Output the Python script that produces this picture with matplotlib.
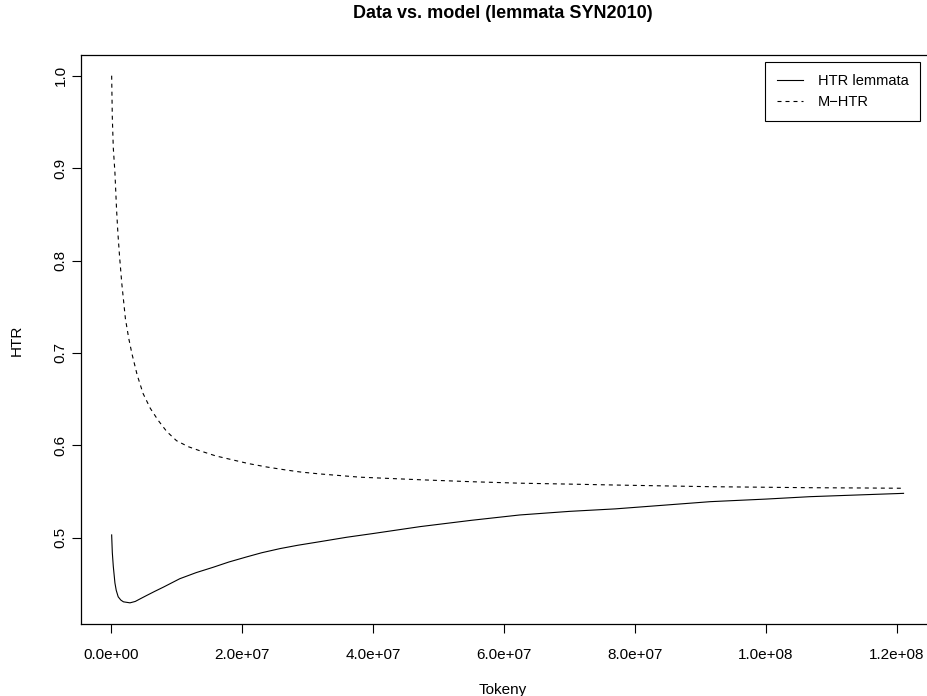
import matplotlib
matplotlib.use("Agg")
import matplotlib.pyplot as plt

plt.rcParams['font.family'] = ['Liberation Sans', 'DejaVu Sans']

# (tokeny v milionech)
tokens_data = [0.1, 0.2, 0.35, 0.6, 0.8, 1.1, 1.5, 1.9, 2.9, 3.7, 4.5, 5.45, 6.7, 8.0,
               10.5, 13.0, 15.6, 18.0, 20.7, 23.0, 25.8, 28.5, 31.9, 36.0, 40.0, 47.2,
               55.0, 62.4, 70.0, 77.0, 85.0, 91.5, 100.0, 106.7, 115.0, 121.0]
htr_data = [0.503, 0.484, 0.469, 0.451, 0.443, 0.436, 0.4325, 0.4306, 0.4295, 0.431,
            0.434, 0.4375, 0.442, 0.4465, 0.4556, 0.4622, 0.468, 0.4737, 0.4792, 0.4837,
            0.4882, 0.4918, 0.4957, 0.5005, 0.5045, 0.512, 0.5188, 0.5246, 0.5285,
            0.5312, 0.5355, 0.539, 0.5418, 0.5444, 0.5465, 0.548]

tokens_model = [0.1, 0.2, 0.35, 0.6, 0.85, 1.05, 1.3, 1.65, 2.2, 2.7, 3.2, 4.0, 4.9,
                6.0, 7.2, 8.5, 10.0, 11.8, 13.6, 16.0, 18.7, 21.0, 23.8, 26.5, 28.9,
                31.9, 38.0, 47.2, 55.0, 62.4, 70.0, 77.0, 85.0, 91.5, 100.0, 106.7,
                115.0, 121.0]
htr_model = [1.0, 0.955, 0.922, 0.895, 0.855, 0.83, 0.805, 0.775, 0.737, 0.716, 0.699,
             0.676, 0.656, 0.64, 0.627, 0.615, 0.605, 0.5985, 0.594, 0.5885, 0.584,
             0.5802, 0.5765, 0.5735, 0.5711, 0.569, 0.5655, 0.5627, 0.5606, 0.559,
             0.558, 0.557, 0.556, 0.5552, 0.5546, 0.5541, 0.5538, 0.5535]

x_ticks = [0, 2e7, 4e7, 6e7, 8e7, 1e8, 1.2e8]
x_tick_labels = ["0.0e+00", "2.0e+07", "4.0e+07", "6.0e+07", "8.0e+07", "1.0e+08", "1.2e+08"]
y_ticks = [0.5, 0.6, 0.7, 0.8, 0.9, 1.0]

W, H = 928, 696
fig = plt.figure(figsize=(W / 100, H / 100), dpi=100)

# pozice os v pixelech (pravý okraj je mimo obrázek, jako v originálu)
left, right, top, bottom = 81, 936, 55, 624
ax = fig.add_axes([left / W, 1 - bottom / H, (right - left) / W, (bottom - top) / H])

k = 786 / 1.2e8
ax.set_xlim((left - 111) / k, (right - 111) / k)
ky = (537.7 - 75.7) / 0.5
ax.set_ylim(0.5 - (bottom - 537.7) / ky, 1.0 + (75.7 - top) / ky)

ax.plot([t * 1e6 for t in tokens_data], htr_data, color='black', lw=0.8,
        label='HTR lemmata')
ax.plot([t * 1e6 for t in tokens_model], htr_model, color='black', lw=0.8,
        dashes=(3.6, 3.6), label='M\u2212HTR')

ax.set_xticks(x_ticks)
ax.set_xticklabels(x_tick_labels)
ax.set_yticks(y_ticks)
ax.set_yticklabels([f"{v:.1f}" for v in y_ticks], rotation=90, va='center')

ax.tick_params(axis='both', direction='out', length=6.5, width=0.8, labelsize=11,
               colors='black')
ax.tick_params(axis='x', pad=10.5)
ax.tick_params(axis='y', pad=3)
for s in ax.spines.values():
    s.set_linewidth(0.9)

fig.text(503 / W, 1 - 14 / H, "Data vs. model (lemmata SYN2010)", ha='center',
         va='center', fontsize=13, fontweight='bold')
fig.text(503 / W, 1 - 690 / H, "Tokeny", ha='center', va='center', fontsize=11)
fig.text(17 / W, 1 - 340 / H, "HTR", ha='center', va='center', fontsize=11,
         rotation=90)

leg = ax.legend(loc='upper right', bbox_to_anchor=(920 / W, 1 - 62 / H),
                bbox_transform=fig.transFigure, fancybox=False, framealpha=1,
                edgecolor='black', fontsize=10.5, handlelength=1.8,
                borderaxespad=0, borderpad=0.8, labelspacing=0.5, handletextpad=1.0)
leg.get_frame().set_linewidth(0.8)

fig.savefig("out.png", dpi=100)
